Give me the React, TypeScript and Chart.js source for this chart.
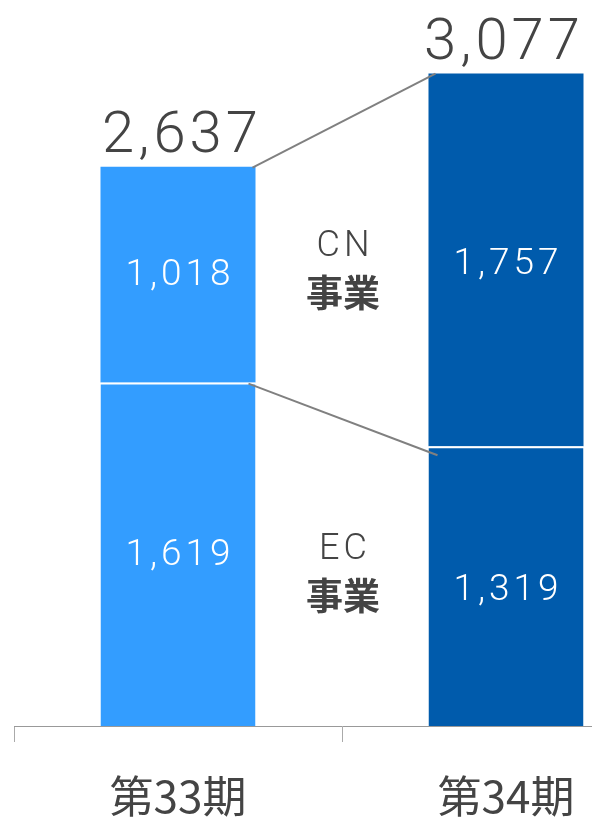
import React, { useEffect, useRef } from "react";
import { Chart, registerables } from "chart.js";

Chart.register(...registerables);

const categories = ["第33期", "第34期"];
const ecValues = [1619, 1319];
const cnValues = [1018, 1757];
const totals = [2637, 3077];
const segmentNames = ["CN", "EC"];
const segmentSuffix = "事業";

const LIGHT = "#339dff";
const DARK = "#005bac";
const TEXT = "#444444";
const NUM_FONT = "Roboto, 'Noto Sans', sans-serif";
const CJK_FONT = "'Noto Sans CJK JP', sans-serif";

const fmt = (v: number) => v.toLocaleString("en-US");

const overlayPlugin = {
  id: "overlay",
  afterDatasetsDraw(chart: any) {
    const ctx = chart.ctx as CanvasRenderingContext2D;
    const ec = chart.getDatasetMeta(0).data;
    const cn = chart.getDatasetMeta(1).data;
    const b1 = cn[0], b2 = cn[1];
    const w1 = b1.width, w2 = b2.width;
    ctx.save();
    // connecting lines
    ctx.strokeStyle = "#808080";
    ctx.lineWidth = 2;
    ctx.beginPath();
    ctx.moveTo(b1.x + w1 / 2 - 3, b1.y + 1);
    ctx.lineTo(b2.x - w2 / 2 + 7, b2.y);
    ctx.stroke();
    ctx.beginPath();
    ctx.moveTo(ec[0].x + w1 / 2 - 7, ec[0].y + 1);
    ctx.lineTo(ec[1].x - w2 / 2 + 9, ec[1].y + 9);
    ctx.stroke();

    // totals
    ctx.fillStyle = TEXT;
    ctx.textAlign = "center";
    ctx.textBaseline = "alphabetic";
    (ctx as any).letterSpacing = "4px";
    ctx.font = `300 58px ${NUM_FONT}`;
    const xShift = [4, -2];
    totals.forEach((t, i) => {
      const b = cn[i];
      ctx.fillText(fmt(t), b.x + xShift[i], b.y - 15);
    });

    // inner values
    ctx.fillStyle = "#ffffff";
    ctx.textBaseline = "middle";
    ctx.font = `300 37px ${NUM_FONT}`;
    (ctx as any).letterSpacing = "4px";
    const yShift = [1, 5];
    [ec, cn].forEach((meta: any, di: number) => {
      const vals = di === 0 ? ecValues : cnValues;
      meta.forEach((b: any, i: number) => {
        const top = b.y;
        const bottom = b.base;
        ctx.fillText(fmt(vals[i]), b.x + 2, (top + bottom) / 2 + yShift[i]);
      });
    });

    // middle segment names
    const midX = (b1.x + b2.x) / 2 + 1;
    const centers = [
      ((cn[0].y + cn[0].base) / 2 + (cn[1].y + cn[1].base) / 2) / 2 + 5,
      ((ec[0].y + ec[0].base) / 2 + (ec[1].y + ec[1].base) / 2) / 2 + 5,
    ];
    centers.forEach((cy, i) => {
      ctx.fillStyle = TEXT;
      ctx.textBaseline = "middle";
      (ctx as any).letterSpacing = "4px";
      ctx.font = `300 36px ${NUM_FONT}`;
      ctx.fillText(segmentNames[i], midX + 2, cy - 25);
      (ctx as any).letterSpacing = "0px";
      ctx.font = `bold 37px ${CJK_FONT}`;
      ctx.fillText(segmentSuffix, midX, cy + 21);
    });
    ctx.restore();
  },
};

export default function App() {
  const ref = useRef<HTMLCanvasElement | null>(null);
  useEffect(() => {
    if (!ref.current) return;
    const chart = new Chart(ref.current, {
      type: "bar",
      data: {
        labels: categories,
        datasets: [
          {
            label: "EC",
            data: ecValues,
            backgroundColor: [LIGHT, DARK],
            borderColor: "#ffffff",
            borderWidth: { top: 2, left: 0, right: 0, bottom: 0 },
            borderSkipped: false,
            barPercentage: 0.4726,
            categoryPercentage: 1,
          },
          {
            label: "CN",
            data: cnValues,
            backgroundColor: [LIGHT, DARK],
            borderWidth: 0,
            barPercentage: 0.4726,
            categoryPercentage: 1,
          },
        ],
      },
      options: {
        responsive: false,
        animation: false,
        devicePixelRatio: 1,
        layout: { padding: { left: 14, right: 0, top: 0, bottom: 0 } },
        plugins: { legend: { display: false }, tooltip: { enabled: false } },
        scales: {
          x: {
            stacked: true,
            offset: true,
            grid: {
              offset: true,
              drawOnChartArea: false,
              drawTicks: true,
              tickLength: 16,
              color: "#aaaaaa",
              lineWidth: 1,
            },
            border: { display: true, color: "#999999", width: 1 },
            ticks: {
              color: TEXT,
              padding: 28,
              font: { family: CJK_FONT, size: 44 },
            },
            afterFit(scale: any) {
              scale.height = 94;
            },
          },
          y: {
            stacked: true,
            display: false,
            min: 0,
            max: 3423,
          },
        },
      },
      plugins: [overlayPlugin],
    } as any);
    return () => chart.destroy();
  }, []);
  return (
    <div
      style={{
        position: "absolute",
        left: 0,
        top: 0,
        width: 592,
        height: 820,
        overflow: "hidden",
        background: "#fff",
      }}
    >
      <canvas ref={ref} width={670} height={820} style={{ width: 670, height: 820, display: "block" }} />
    </div>
  );
}
